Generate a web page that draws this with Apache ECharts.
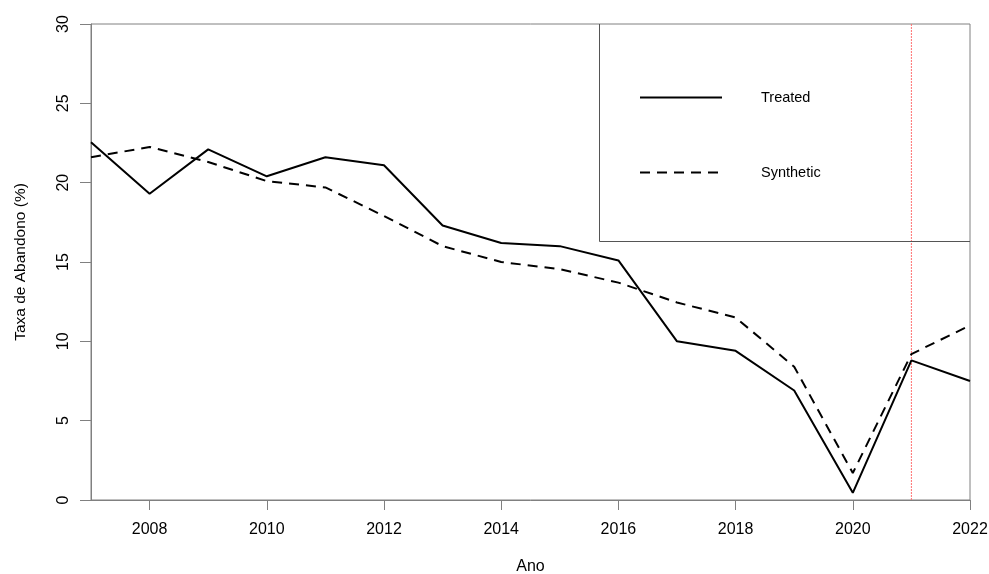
<!DOCTYPE html>
<html>
<head>
<meta charset="utf-8">
<script src="https://cdn.jsdelivr.net/npm/echarts@6/dist/echarts.min.js"></script>
<style>
  html, body { margin: 0; padding: 0; background: #fff; }
  #chart { width: 989px; height: 574px; }
</style>
</head>
<body>
<div id="chart"></div>
<script>
// Dropout rate: treated unit vs. synthetic control
const years = ['2007','2008','2009','2010','2011','2012','2013','2014','2015','2016','2017','2018','2019','2020','2021','2022'];
const treated   = [22.55, 19.3, 22.1, 20.4, 21.6, 21.1, 17.3, 16.2, 16.0, 15.1, 10.0, 9.4, 6.9, 0.45, 8.8, 7.5];
const synthetic = [21.6, 22.25, 21.3, 20.1, 19.7, 17.9, 16.0, 15.0, 14.55, 13.7, 12.45, 11.5, 8.4, 1.7, 9.2, 11.0];
const interventionYear = '2021';
const yTicks = { min: 0, max: 30, step: 5 };

const FONT = '"Liberation Sans", Arial, sans-serif';
const AXIS_GREY = '#808080';
const MARK_RED = '#ff7070';

const chart = echarts.init(document.getElementById('chart'), null, { renderer: 'canvas' });

chart.setOption({
  animation: false,
  backgroundColor: '#ffffff',
  grid: {
    left: 91, right: 19, top: 24, bottom: 74,
    outerBoundsMode: 'none',
    containLabel: false,
    show: true, borderColor: AXIS_GREY, borderWidth: 1
  },
  xAxis: {
    type: 'category',
    data: years,
    boundaryGap: false,
    name: 'Ano',
    nameLocation: 'middle',
    nameGap: 59,
    nameTextStyle: { fontFamily: FONT, fontSize: 16, color: '#000' },
    axisLine: { lineStyle: { color: AXIS_GREY, width: 1 } },
    axisTick: {
      show: true, inside: false, length: 10,
      interval: (i, v) => Number(v) % 2 === 0,
      lineStyle: { color: AXIS_GREY }
    },
    axisLabel: {
      interval: (i, v) => Number(v) % 2 === 0,
      margin: 22,
      fontFamily: FONT, fontSize: 16, color: '#000'
    },
    splitLine: { show: false }
  },
  yAxis: {
    type: 'value',
    min: yTicks.min, max: yTicks.max, interval: yTicks.step,
    name: 'Taxa de Abandono (%)',
    nameLocation: 'middle',
    nameGap: 62,
    nameRotate: 90,
    nameTextStyle: { fontFamily: FONT, fontSize: 15.5, color: '#000' },
    axisLine: { show: true, lineStyle: { color: AXIS_GREY, width: 1 } },
    axisTick: { show: true, inside: false, length: 11, lineStyle: { color: AXIS_GREY } },
    axisLabel: {
      rotate: 90, margin: 19,
      fontFamily: FONT, fontSize: 16, color: '#000'
    },
    splitLine: { show: false }
  },
  legend: {
    orient: 'vertical',
    left: 639, top: 90,
    padding: 0,
    itemWidth: 82, itemHeight: 14,
    itemGap: 60,
    itemStyle: { color: 'rgba(0,0,0,0)', borderColor: 'rgba(0,0,0,0)', borderWidth: 0 },
    textStyle: { fontFamily: FONT, fontSize: 14.5, color: '#000', padding: [0, 0, 0, 34] },
    data: ['Treated', 'Synthetic']
  },
  graphic: [{
    // legend frame: left and bottom edges (top/right coincide with the plot frame)
    type: 'polyline',
    shape: { points: [[599.5, 24], [599.5, 241.5], [970, 241.5]] },
    style: { fill: 'none', stroke: '#555', lineWidth: 1 },
    z: 10
  }],
  series: [
    {
      // vertical reference line at the intervention year
      name: 'intervention',
      type: 'line',
      data: [[interventionYear, yTicks.min], [interventionYear, yTicks.max]],
      symbol: 'none',
      silent: true,
      lineStyle: { color: MARK_RED, width: 1, type: [2, 1], opacity: 1 },
      itemStyle: { color: MARK_RED },
      z: 2
    },
    {
      name: 'Treated',
      type: 'line',
      data: treated,
      symbol: 'none',
      lineStyle: { color: '#000', width: 2, type: 'solid' },
      itemStyle: { color: '#000' },
      z: 3
    },
    {
      name: 'Synthetic',
      type: 'line',
      data: synthetic,
      symbol: 'none',
      lineStyle: { color: '#000', width: 2, type: [10, 7] },
      itemStyle: { color: '#000' },
      z: 3
    }
  ]
});
</script>
</body>
</html>
